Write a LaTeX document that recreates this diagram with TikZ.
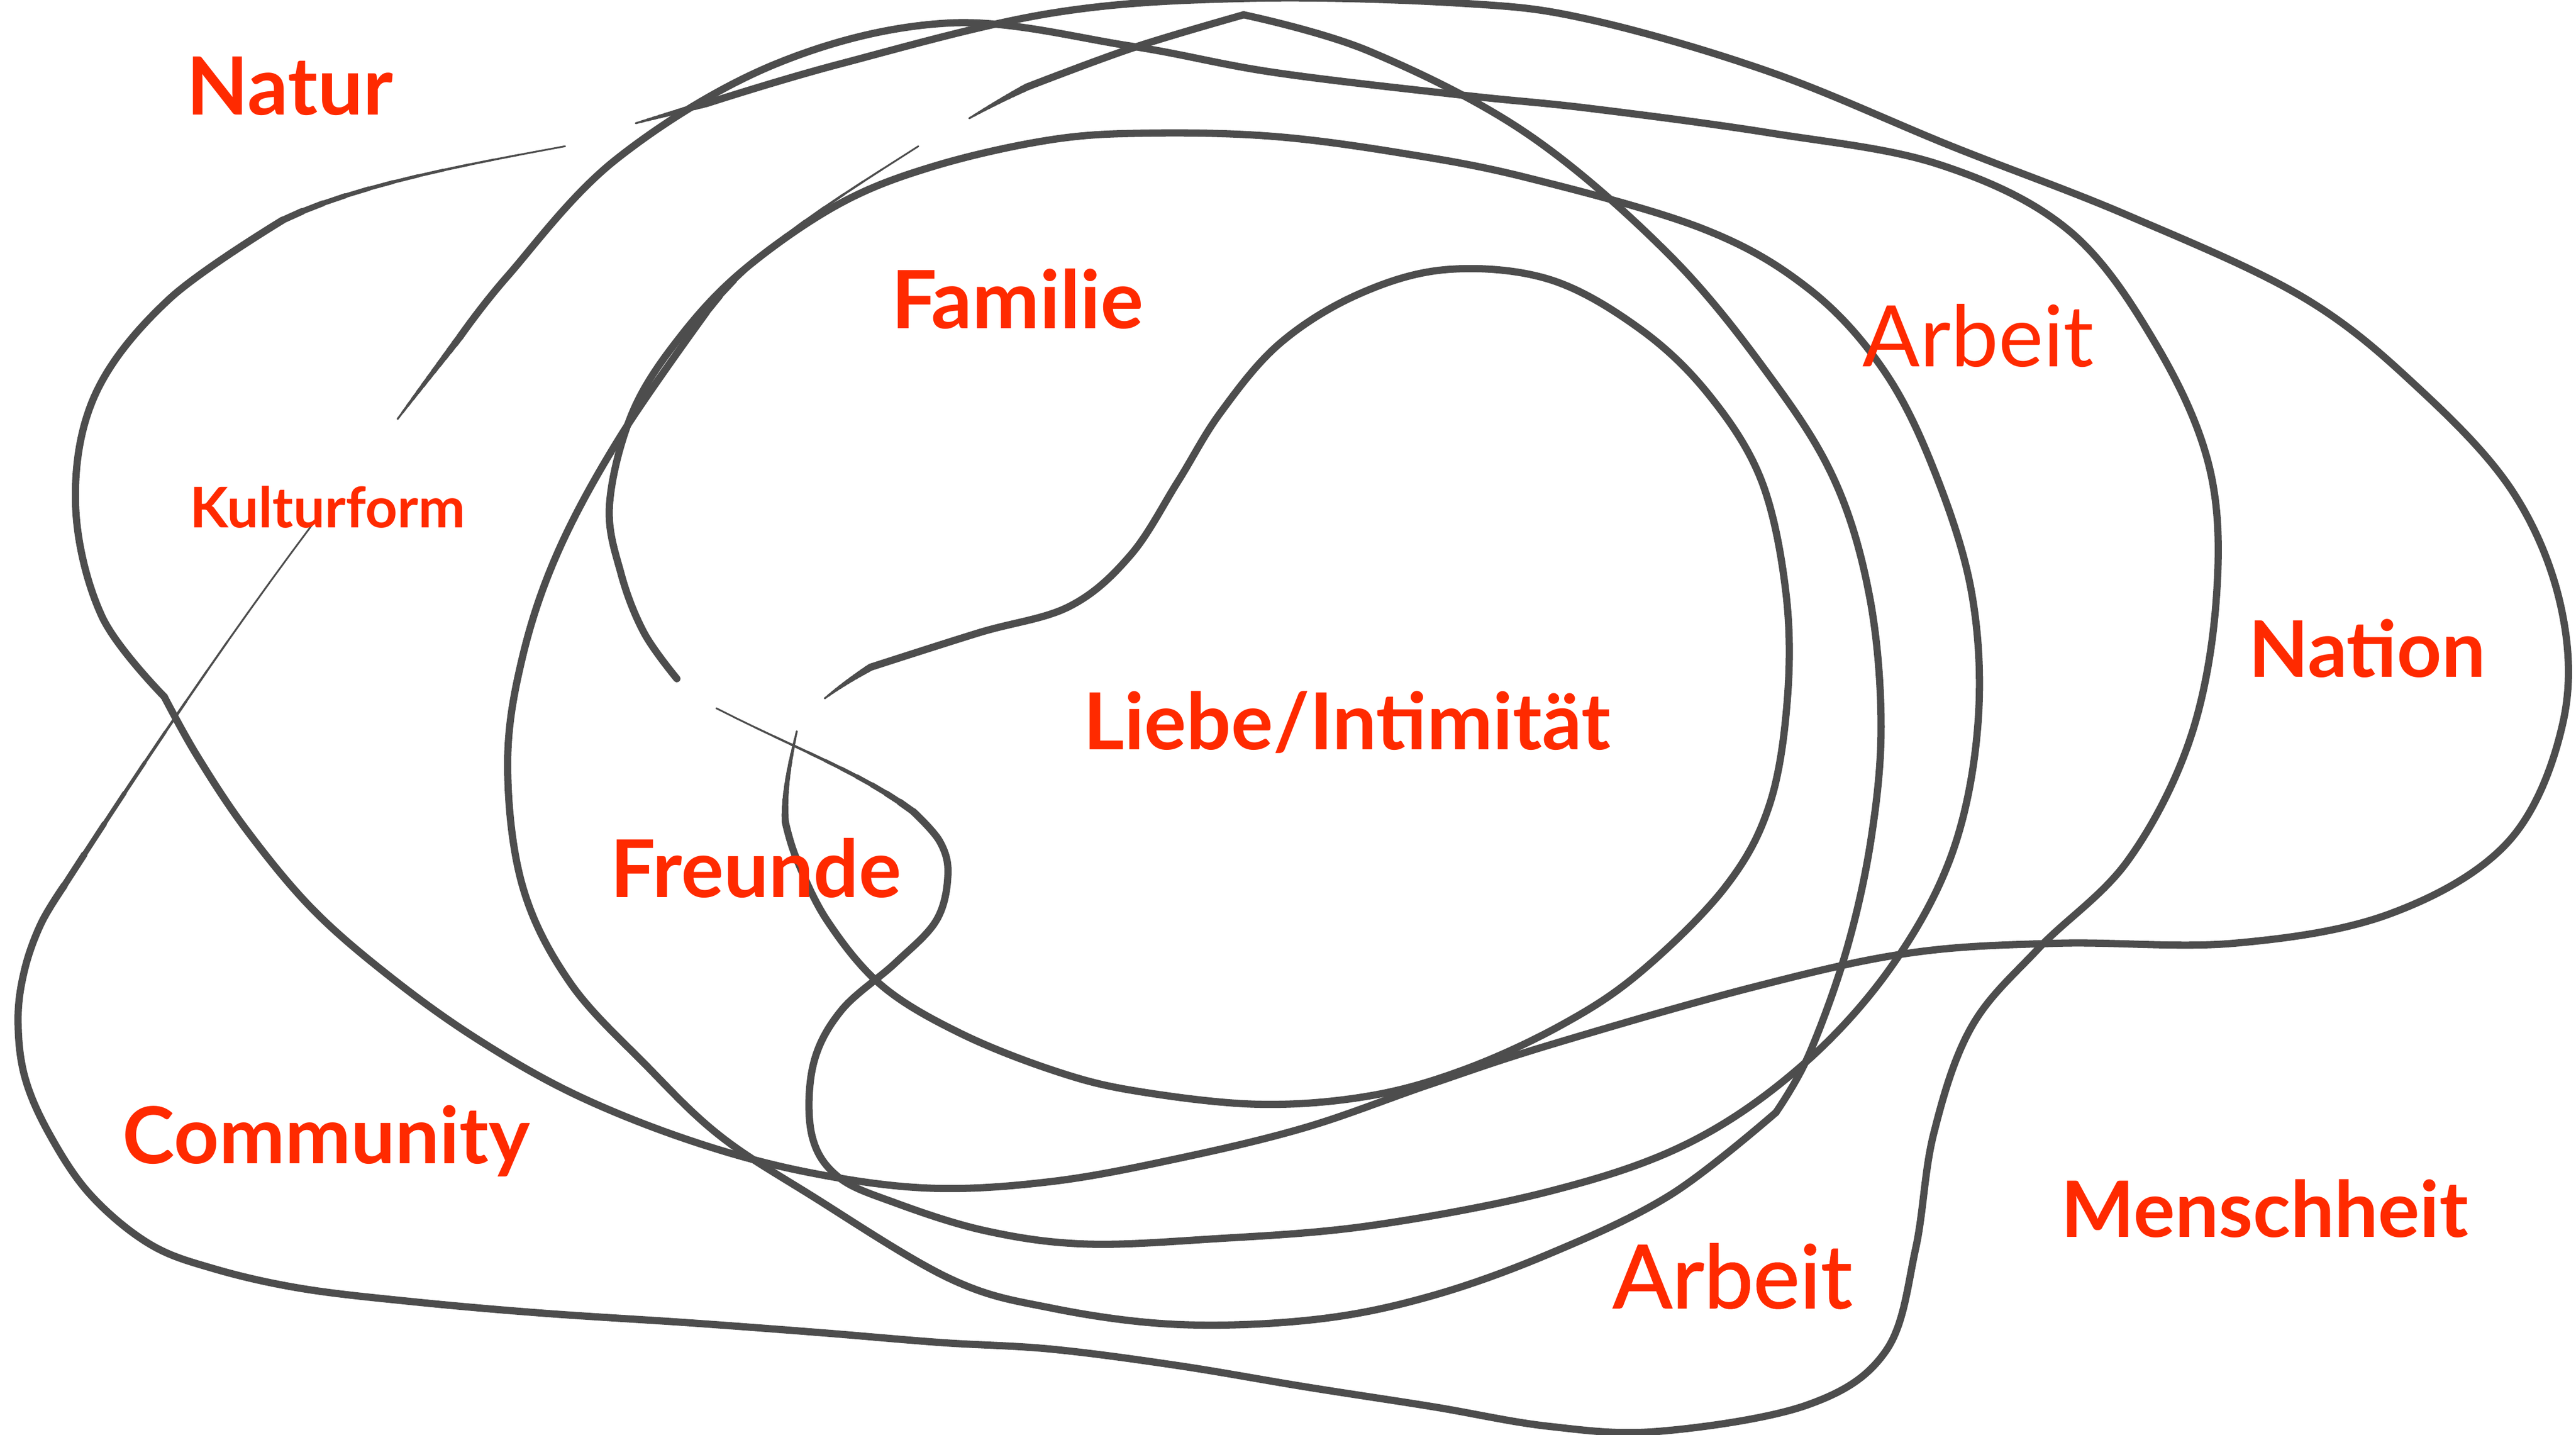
\documentclass[tikz,border=0pt]{standalone}
\usepackage{fontspec}
\setmainfont{Lato}
\newfontfamily\medfont{Lato}[FakeBold=1.2]
\definecolor{linegray}{RGB}{77,77,77}
\definecolor{labelred}{RGB}{255,42,0}
\newcommand{\labsize}[1]{\fontsize{#1}{#1}\selectfont}
\def\quadlist{0/1/0.30,1/2/0.31,2/3/0.34,3/4/0.38,4/5/0.43,5/6/0.50,6/7/0.58,7/8/0.67,8/9/0.78,9/10/0.90,10/11/1.03,11/12/1.17}
\def\cubelist{0/1/0.30,1/2/0.30,2/3/0.31,3/4/0.32,4/5/0.35,5/6/0.39,6/7/0.45,7/8/0.53,8/9/0.64,9/10/0.77,10/11/0.94,11/12/1.14}
\def\linlist{0/1/0.34,1/2/0.42,2/3/0.50,3/4/0.58,4/5/0.66,5/6/0.74,6/7/0.81,7/8/0.89,8/9/0.97,9/10/1.05,10/11/1.13,11/12/1.21}
% tapered tip: tip, control 1, control 2, junction, width list
\newcommand{\tipdraw}[5]{%
  \path (#1) coordinate (tp0) .. controls (#2) and (#3) .. (#4)
    \foreach \k [evaluate=\k as \pp using \k/12] in {1,...,11} {coordinate[pos=\pp] (tp\k)}
    coordinate (tp12);
  \foreach \i/\j/\w in #5 {\draw[tipline,line width=\w pt] (tp\i) -- (tp\j);}%
}
\begin{document}
\begin{tikzpicture}[x=0.01cm,y=-0.01cm,
  curve/.style={draw=linegray,line width=1.25pt,line cap=round,line join=round},
  tipline/.style={draw=linegray,line cap=round},
  lab/.style={text=labelred,inner sep=0pt,anchor=base west},
  smoothplot/.style={smooth,tension=0.6}
]
\useasboundingbox[fill=white] (0,0) rectangle (1568,873);

% ---------- Nation curve (outer) ----------
\tipdraw{344,89}{290,99}{217,112}{172,134}{\quadlist}
\draw[curve] plot[smoothplot] coordinates {(172,134) (103,182) (58,240) (46,307) (62,375) (100,424)};
\tipdraw{387,75}{401,71}{416,67}{430,63}{\linlist}
\draw[curve] plot[smoothplot] coordinates {(430,63) (511,39) (640,8) (760,-1) (890,2) (968,12) (1078,44) (1188,89) (1295,131) (1402,181) (1473,237) (1530,300) (1559,370) (1560,440) (1527,512) (1455,556) (1360,574) (1253,574) (1162,580) (1066,601) (943,636) (870,660) (795,686) (717,705) (640,719) (565,723) (490,713) (420,694) (350,666) (290,632) (237,594) (190,553) (150,505) (120,460) (100,424)};

% ---------- Menschheit / Community curve ----------
\tipdraw{242,255}{254,239}{267,222}{280,205}{\linlist}
\draw[curve] plot[smoothplot] coordinates {(280,205) (309,168) (375,97) (472,39) (578,14) (688,28) (775,44) (891,58) (968,66) (1078,81) (1180,100) (1259,140) (1312,209) (1345,285) (1349,365) (1333,450) (1295,524) (1241,577) (1200,625) (1177,690) (1166,760) (1148,822) (1100,855) (1010,871) (943,868) (872,856) (795,844) (717,831) (640,821) (573,817) (500,811) (420,805) (329,799) (250,792) (183,784) (130,772) (91,757) (55,727) (30,690) (15,655) (11,620) (15,590) (25,562) (39,539)};
\tipdraw{191,318}{137,390}{88,463}{39,539}{\cubelist}

% ---------- big circle ----------
\tipdraw{590,72}{602,65}{613,59}{625,53}{\linlist}
\draw[curve] plot[smoothplot] coordinates {(625,53) (690,29) (757,9)};
\draw[curve] plot[smoothplot] coordinates {(757,9) (833,31) (929,81) (1016,155) (1078,230) (1117,293) (1138,363) (1145,440) (1139,510) (1124,578) (1101,642) (1081,677)};
\tipdraw{559,89}{517,116}{460,150}{430,190}{\quadlist}
\draw[curve] plot[smoothplot] coordinates {(430,190) (378,265) (340,335) (318,400) (309,465) (318,539) (347,598) (394,649) (438,691) (493,727) (578,778) (640,796) (717,806) (800,803) (870,789) (943,763) (1017,727) (1081,677)};

% ---------- Familie / Freunde curve ----------
\tipdraw{436,431}{485,456}{524,470}{556,494}{\quadlist}
\draw[curve] plot[smoothplot] coordinates {(556,494) (572,512) (577,532) (570,560) (545,586) (512,615) (495,648) (494,690) (510,716) (545,732) (600,749) (660,757) (737,754) (833,746) (943,725) (1027,696) (1095,650) (1150,590) (1188,520) (1204,440) (1200,360) (1176,283) (1145,223) (1100,175) (1036,139) (929,108) (852,93) (775,83) (700,81) (640,85) (569,101) (511,124) (453,164) (414,205) (385,251) (371,307) (378,349) (392,385) (412,413)};

% ---------- Liebe / Intimitaet curve ----------
\tipdraw{502,425}{511,418}{520,412}{530,406}{\linlist}
\draw[curve] plot[smoothplot] coordinates {(530,406) (596,385) (651,369) (688,338) (717,293) (743,251) (779,209) (827,179) (881,164) (943,170) (998,200) (1040,240) (1072,292) (1087,360) (1088,425) (1077,490) (1050,540) (998,592) (950,624) (891,651) (833,667) (766,672) (692,664) (643,652) (585,629) (537,600) (504,561) (485,523) (478,500)};
\tipdraw{485,445}{481,463}{477,482}{478,500}{\linlist}

% ---------- labels ----------
\node[lab,font=\labsize{13.9}\bfseries] (natur) at (113,70) {Natur};
\node[lab,font=\labsize{9.7}\bfseries] (kultur) at (115,321) {Kulturform};
\node[lab,font=\labsize{13.9}\bfseries] (familie) at (542,200) {Familie};
\node[lab,font=\labsize{14.7}] (arbeitoben) at (1133,223) {Arbeit};
\node[lab,font=\labsize{13.5}\bfseries] (nation) at (1368,412) {Nation};
\node[lab,font=\labsize{13.6}\bfseries] (liebe) at (659,456) {Liebe/Intimität};
\node[lab,font=\labsize{13.8}\bfseries] (freunde) at (371,546) {Freunde};
\node[lab,font=\labsize{13.6}\bfseries] (community) at (74,708) {Community};
\node[lab,font=\labsize{13.45}\bfseries] (menschheit) at (1254,753) {Menschheit};
\node[lab,font=\labsize{15.2}\medfont] (arbeitunten) at (981,796) {Arbeit};
\end{tikzpicture}
\end{document}
